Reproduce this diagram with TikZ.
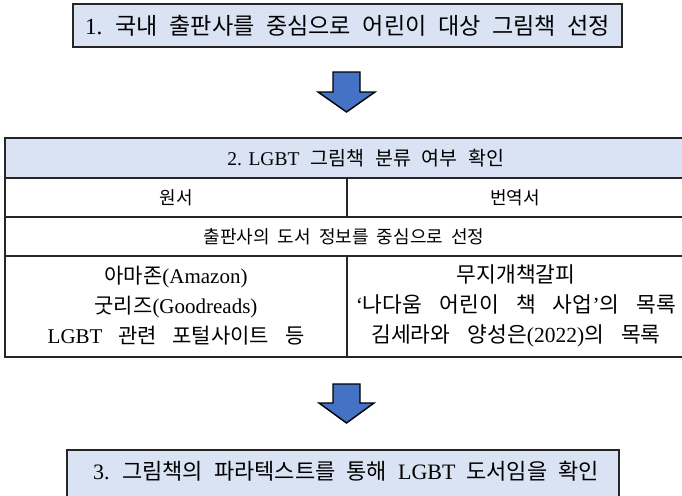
\documentclass[tikz,border=0pt]{standalone}
\usepackage{fontspec}
\setmainfont{Noto Sans CJK KR}
\newfontfamily\latfont{Liberation Serif}
\newcommand\lat[1]{{\latfont\spaceskip 0pt\relax #1}}
\definecolor{boxfill}{HTML}{DAE3F3}
\definecolor{arrowblue}{HTML}{4472C4}
\definecolor{edgegray}{HTML}{262626}
\begin{document}
\begin{tikzpicture}[x=1pt,y=-1pt,
  txt/.style={inner sep=0pt, align=center},
  boxtxt/.style={txt, font=\fontsize{23.1}{26}\selectfont\spaceskip 0.5em\relax},
  headtxt/.style={txt, font=\fontsize{19.5}{24}\selectfont\spaceskip 0.56em\relax},
  celltxt/.style={txt, font=\fontsize{18}{24}\selectfont\spaceskip 0.45em\relax},
  listtxt/.style={txt, font=\fontsize{21}{30}\selectfont\spaceskip 0.75em\relax},
  frame/.style={draw=edgegray, line width=1.6pt},
  grid/.style={draw=edgegray, line width=1.3pt},
  downarrow/.style={draw=black, line width=1.4pt, fill=arrowblue, line join=miter}]
\clip (0,0) rectangle (682,495);
% box 1
\draw[frame, fill=boxfill] (73,4) rectangle (622,47);
\node[boxtxt] (t1) at (347.5,25.5) {\lat{1.} 국내 출판사를 중심으로 어린이 대상 그림책 선정};
% arrow 1
\draw[downarrow] (333,72) -- (360,72) -- (360,92) -- (375,92) -- (346.5,112) -- (318,92) -- (333,92) -- cycle;
% table
\fill[boxfill] (5,138) rectangle (684,178);
\draw[grid] (5,178) -- (684,178);
\draw[grid] (5,217) -- (684,217);
\draw[grid] (5,256) -- (684,256);
\draw[grid] (347,178) -- (347,217);
\draw[grid] (347,256) -- (347,357);
\draw[frame] (5,138) rectangle (684,357);
\node[headtxt] (h2) at (366,158) {\lat{2. LGBT} 그림책 분류 여부 확인};
\node[celltxt] (c1) at (176,197.5) {원서};
\node[celltxt] (c2) at (515,197.5) {번역서};
\node[celltxt] (r3) at (344,236.5) {출판사의 도서 정보를 중심으로 선정};
\node[listtxt] (l4) at (176,306) {아마존\lat{(Amazon)}\\굿리즈\lat{(Goodreads)}\\\lat{LGBT} 관련 포털사이트 등};
\node[listtxt, font=\fontsize{21.5}{30}\selectfont\spaceskip 0.8em\relax] (r4) at (516,306) {무지개책갈피\\\lat{‘}나다움 어린이 책 사업\lat{’}의 목록\\김세라와 양성은\lat{(2022)}의 목록};
% arrow 2
\draw[downarrow] (333,384) -- (360,384) -- (360,403) -- (374,403) -- (346.5,423) -- (319,403) -- (333,403) -- cycle;
% box 3
\draw[frame, fill=boxfill] (67,450) rectangle (619,500);
\node[boxtxt, font=\fontsize{22}{26}\selectfont\spaceskip 0.5em\relax] (t3) at (346,471) {\lat{3.} 그림책의 파라텍스트를 통해 \lat{LGBT} 도서임을 확인};
\end{tikzpicture}
\end{document}
